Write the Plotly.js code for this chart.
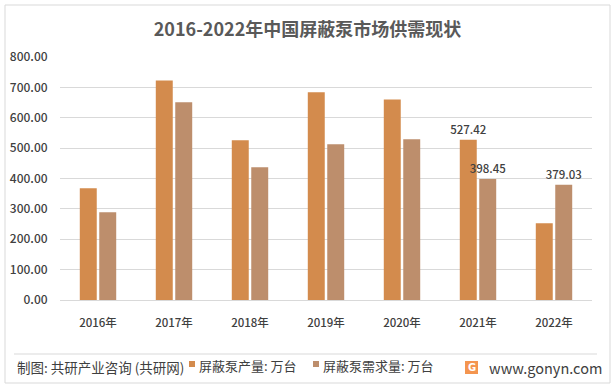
<!DOCTYPE html>
<html>
<head>
<meta charset="utf-8">
<script src="https://cdn.plot.ly/plotly-3.0.1.min.js"></script>
<style>
html,body{margin:0;padding:0;background:#fff;}
#chart{width:615px;height:391px;}
</style>
</head>
<body>
<div id="chart"></div>
<script>
var years = ['2016年','2017年','2018年','2019年','2020年','2021年','2022年'];
var production = [368, 723, 526, 684, 660, 527.42, 253];
var demand = [289, 651, 437, 513, 529, 398.45, 379.03];
var productionLabels = ['', '', '', '', '', '527.42', ''];
var demandLabels = ['', '', '', '', '', '398.45', '379.03'];
var seriesNames = ['屏蔽泵产量: 万台', '屏蔽泵需求量: 万台'];
var seriesColors = ['#D38B4D', '#BD8E6C'];
var yTickVals = [0, 100, 200, 300, 400, 500, 600, 700, 800];
var yTickText = ['0.00','100.00','200.00','300.00','400.00','500.00','600.00','700.00','800.00'];

var W = 615, H = 391;
var M = {l: 60, r: 23, t: 57, b: 91};
var PW = W - M.l - M.r, PH = H - M.t - M.b;
function px(x){ return (x - M.l) / PW; }
function py(y){ return (H - M.b - y) / PH; }

var FONT = '"Noto Sans CJK SC", "Noto Sans", sans-serif';

var traces = [
  {
    type: 'bar', name: seriesNames[0], x: years, y: production,
    text: productionLabels, textposition: 'outside', cliponaxis: false, constraintext: 'none',
    textfont: {family: FONT, size: 11.5, color: '#404040', weight: 500},
    marker: {color: seriesColors[0]}, hoverinfo: 'x+y', showlegend: false
  },
  {
    type: 'bar', name: seriesNames[1], x: years, y: demand,
    text: demandLabels, textposition: 'outside', cliponaxis: false, constraintext: 'none',
    textfont: {family: FONT, size: 11.5, color: '#404040', weight: 500},
    marker: {color: seriesColors[1]}, hoverinfo: 'x+y', showlegend: false
  }
];

// custom legend (small squares + text), placed in the footer like the original
var legendItems = [
  {sq: 189, tx: 197},
  {sq: 313, tx: 321}
];
var shapes = [
  {type: 'rect', xref: 'paper', yref: 'paper', x0: px(5), x1: px(610), y0: py(383), y1: py(5),
   line: {color: '#D9D9D9', width: 1}, fillcolor: 'rgba(0,0,0,0)', layer: 'below'},
  {type: 'line', xref: 'paper', yref: 'paper', x0: px(14), x1: px(597), y0: py(354), y1: py(354),
   line: {color: '#D9D9D9', width: 1}},
  {type: 'rect', xref: 'paper', yref: 'paper', x0: px(465), x1: px(478), y0: py(374), y1: py(361),
   line: {width: 0}, fillcolor: '#F4954F'}
];
var annotations = [
  {xref: 'paper', yref: 'paper', x: px(15), y: py(367), xanchor: 'left', yanchor: 'middle',
   text: '制图: 共研产业咨询 (共研网)', showarrow: false,
   font: {family: FONT, size: 13.5, color: '#404040'}},
  {xref: 'paper', yref: 'paper', x: px(471.5), y: py(367.5), xanchor: 'center', yanchor: 'middle',
   text: '<b>G</b>', showarrow: false,
   font: {family: 'DejaVu Sans', size: 10, color: '#ffffff'}},
  {xref: 'paper', yref: 'paper', x: px(487), y: py(367), xanchor: 'left', yanchor: 'middle',
   text: 'www.gonyn.com', showarrow: false,
   font: {family: FONT, size: 14.5, color: '#404040'}}
];
legendItems.forEach(function(it, i){
  shapes.push({type: 'rect', xref: 'paper', yref: 'paper', x0: px(it.sq), x1: px(it.sq + 6),
    y0: py(367), y1: py(361), line: {width: 0}, fillcolor: seriesColors[i]});
  annotations.push({xref: 'paper', yref: 'paper', x: px(it.tx), y: py(366), xanchor: 'left', yanchor: 'middle',
    text: seriesNames[i], showarrow: false, font: {family: FONT, size: 13, color: '#404040'}});
});

var layout = {
  width: W, height: H,
  margin: {l: M.l, r: M.r, t: M.t, b: M.b, pad: 0},
  paper_bgcolor: '#ffffff', plot_bgcolor: '#ffffff',
  font: {family: FONT, color: '#595959'},
  title: {
    text: '<b>2016-2022年中国屏蔽泵市场供需现状</b>',
    font: {family: FONT, size: 18, color: '#595959'},
    x: 0.5, xanchor: 'center', y: 1 - 30 / H, yanchor: 'middle', yref: 'container'
  },
  barmode: 'group', bargap: 0.488, bargroupgap: 0.128,
  xaxis: {
    type: 'category', showgrid: false, zeroline: false,
    showline: false, ticks: 'outside', ticklen: 12, tickcolor: 'rgba(0,0,0,0)',
    tickfont: {family: FONT, size: 11.5, color: '#404040', weight: 500}, fixedrange: true
  },
  yaxis: {
    range: [0, 800], tickvals: yTickVals, ticktext: yTickText,
    showgrid: true, gridcolor: '#D9D9D9', gridwidth: 1,
    zeroline: true, zerolinecolor: '#D9D9D9', zerolinewidth: 1,
    showline: false, ticks: 'outside', ticklen: 9, tickcolor: 'rgba(0,0,0,0)',
    tickfont: {family: FONT, size: 12, color: '#404040', weight: 500}, fixedrange: true
  },
  showlegend: false,
  shapes: shapes,
  annotations: annotations
};

Plotly.newPlot('chart', traces, layout, {displayModeBar: false, responsive: false});
</script>
</body>
</html>
